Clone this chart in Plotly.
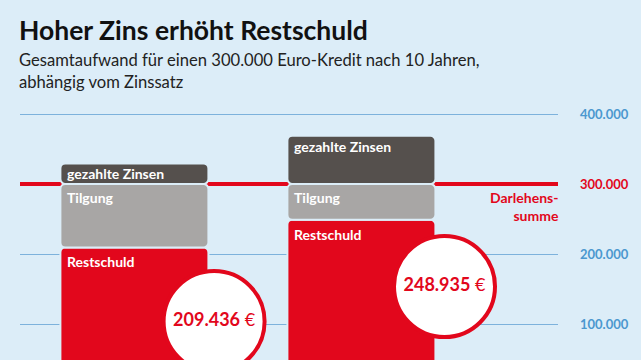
import plotly.graph_objects as go

# ---- data ----
scenarios = ["Szenario A", "Szenario B"]
restschuld = [209436, 248935]
tilgung = [90564, 51065]
zinsen = [29436, 68935]
darlehen = 300000
tick_vals = [100000, 200000, 300000, 400000]
tick_labels = ["100.000", "200.000", "300.000", "400.000"]

# ---- style ----
BG = "#dcedf8"
RED = "#e2071c"
DARK = "#55504d"
GRAY = "#a8a6a5"
GRID = "#7db2dc"
TICKBLUE = "#4b98cf"
FONT = "Lato"

xpos = [0, 1]
bw = 0.652
circle_y = [103500, 153500]
circle_dx = [0.025, 0.04]

base_t = restschuld
base_z = [r + t for r, t in zip(restschuld, tilgung)]

fig = go.Figure()
common = dict(width=bw, marker_line=dict(color=BG, width=2), marker_cornerradius=5,
              hoverinfo="skip")
fig.add_trace(go.Bar(x=xpos, y=restschuld, base=[0, 0], marker_color=RED, **common))
fig.add_trace(go.Bar(x=xpos, y=tilgung, base=base_t, marker_color=GRAY, **common))
fig.add_trace(go.Bar(x=xpos, y=zinsen, base=base_z, marker_color=DARK, **common))

def fmt(v):
    return f"{v:,.0f}".replace(",", ".")

fig.add_trace(go.Scatter(
    x=[x + bw / 2 + d for x, d in zip(xpos, circle_dx)],
    y=circle_y,
    mode="markers+text",
    marker=dict(size=101, color="white", line=dict(color=RED, width=4)),
    text=[f"<b>{fmt(v)}</b> <span style='font-weight:normal'>€</span>" for v in restschuld],
    textposition="middle center",
    textfont=dict(family=FONT, size=18, color=RED),
    cliponaxis=False,
    hoverinfo="skip",
))

ann = []
for i, x in enumerate(xpos):
    left = x - bw / 2
    for txt, top, ys in [("gezahlte Zinsen", base_z[i] + zinsen[i], 0),
                         ("Tilgung", base_t[i] + tilgung[i], -3),
                         ("Restschuld", restschuld[i], -4)]:
        ann.append(dict(x=left, y=top, xref="x", yref="y", xanchor="left", yanchor="top",
                        xshift=5, yshift=ys, showarrow=False,
                        text=f"<b>{txt}</b>",
                        font=dict(family=FONT, size=14, color="white")))

ann.append(dict(x=1, y=darlehen, xref="paper", yref="y", xanchor="right", yanchor="top",
                xshift=3, yshift=-3, showarrow=False, align="right",
                text="<b>Darlehens-<br>summe</b>",
                font=dict(family=FONT, size=14, color=RED)))

ann.append(dict(x=17 / 641, y=1 - 30 / 360, xref="paper", yref="paper", showarrow=False,
                xanchor="left", yanchor="middle", text="<b>Hoher Zins erhöht Restschuld</b>",
                font=dict(family=FONT, size=26.5, color="#111111")))
ann.append(dict(x=17 / 641, y=1 - 71 / 360, xref="paper", yref="paper", showarrow=False,
                xanchor="left", yanchor="middle", align="left",
                text="Gesamtaufwand für einen 300.000 Euro-Kredit nach 10 Jahren,<br>abhängig vom Zinssatz",
                font=dict(family=FONT, size=16.6, color="#222222")))

# convert full-figure positions of title/subtitle to paper coordinates
for a in ann[-2:]:
    # paper area: x 20..558, y 100..360
    px = a["x"] * 641
    py = (1 - a["y"]) * 360
    a["x"] = (px - 20) / 538
    a["y"] = (360 - py) / 260

grid_vals = [v for v in tick_vals if v != darlehen]

fig.update_layout(
    width=641, height=360,
    margin=dict(l=20, r=83, t=100, b=0),
    paper_bgcolor=BG, plot_bgcolor=BG,
    barmode="overlay", showlegend=False,
    annotations=ann,
    shapes=[dict(type="line", xref="paper", yref="y", x0=0, x1=1, y0=darlehen, y1=darlehen,
                 line=dict(color=RED, width=4), layer="below")],
    xaxis=dict(range=[-0.504, 1.866], visible=False, fixedrange=True),
    yaxis=dict(range=[48571, 420000], side="right", tickvals=tick_vals,
               ticktext=[f"<span style='color:{RED}'>{t}</span>" if v == darlehen else t
                         for v, t in zip(tick_vals, tick_labels)],
               tickfont=dict(family=FONT, size=13, color=TICKBLUE, weight="bold"),
               showgrid=False, zeroline=False,
               minor=dict(tickvals=grid_vals, showgrid=True, gridcolor=GRID, gridwidth=1,
                          ticks=""),
               ticks="", ticklabelstandoff=21, showline=False, fixedrange=True),
)

fig.write_html("out.html", config={"displayModeBar": False},
               post_script="document.body.style.margin='0';")
